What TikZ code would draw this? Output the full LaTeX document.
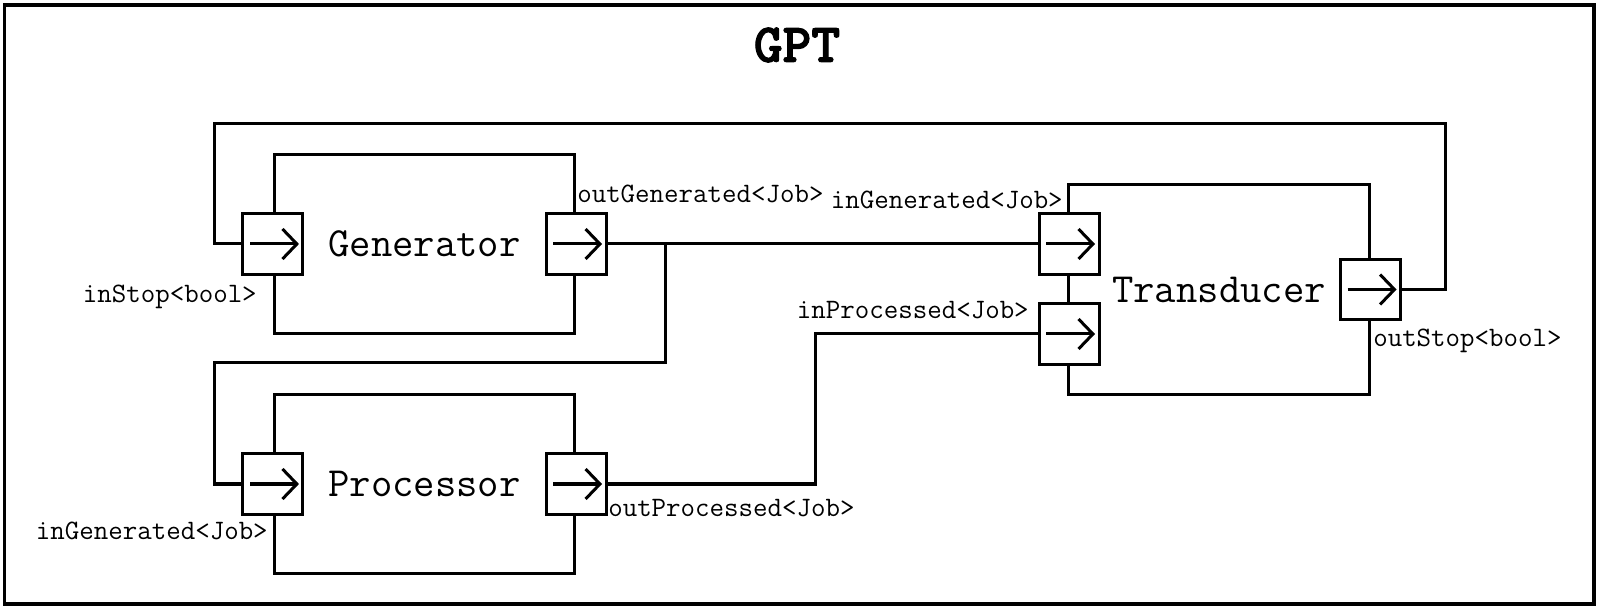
\documentclass[tikz,border=0pt]{standalone}
\usepackage{fontspec}
\newfontfamily\titlefont{lmmonolt10-bold.otf}[FakeBold=2]
\usetikzlibrary{arrows.meta}

\tikzset{
    wire/.style={line width=0.075cm},
    block/.style={draw, line width=0.075cm, minimum width=7.5cm, inner sep=0,
        font=\ttfamily\fontsize{29.5}{32}\selectfont},
    port/.style={draw, fill=white, line width=0.075cm, minimum size=1.5cm, inner sep=0,
        path picture={
            \draw[line width=0.075cm, -{Straight Barb[length=0.36cm, width=0.75cm]}]
                ([xshift=0.18cm]path picture bounding box.west) --
                ([xshift=-0.1cm]path picture bounding box.east);
        }},
    portlabel/.style={inner sep=0, font=\ttfamily\fontsize{20}{22}\selectfont},
}

\begin{document}
\begin{tikzpicture}[x=0.025cm, y=-0.025cm]
    \useasboundingbox (0,0) rectangle (1599,609);
    \draw[line width=0.08cm] (4.5,5) rectangle (1594,604);
    \node[font=\titlefont\fontsize{39}{44}\selectfont] (title) at (797,45) {GPT};

    % blocks
    \node[block, minimum height=4.45cm] (gen) at (424.5,244) {Generator};
    \node[block, minimum height=4.45cm] (proc) at (424.5,484) {Processor};
    \node[block, minimum height=5.225cm] (trans) at (1219,289.5) {Transducer};

    % connectors
    \draw[wire] (gen.east) -- (1069,244);
    \draw[wire] (gen.east) -- ++(89,0) |- (214,363) |- (proc.west);
    \draw[wire] (proc.east) -- ++(239,0) |- (1069,334);
    \draw[wire] (trans.east) -- ++(75,0) |- (214,124) |- (gen.west);

    % ports
    \node[port] (gin) at (gen.west) {};
    \node[port] (gout) at (gen.east) {};
    \node[port] (pin) at (proc.west) {};
    \node[port] (pout) at (proc.east) {};
    \node[port] (tin1) at (1069,244) {};
    \node[port] (tin2) at (1069,334) {};
    \node[port] (tout) at (trans.east) {};

    % port labels
    \node[portlabel, anchor=east] (lstop) at (257,297) {inStop<bool>};
    \node[portlabel, anchor=west] (lgout) at (577,194) {outGenerated<Job>};
    \node[portlabel, anchor=east] (lpin) at (268,531) {inGenerated<Job>};
    \node[portlabel, anchor=west] (lpout) at (608,508) {outProcessed<Job>};
    \node[portlabel, anchor=east] (ltin1) at (1063,200) {inGenerated<Job>};
    \node[portlabel, anchor=east] (ltin2) at (1029,310) {inProcessed<Job>};
    \node[portlabel, anchor=west] (ltout) at (1373,341) {outStop<bool>};
\end{tikzpicture}
\end{document}
